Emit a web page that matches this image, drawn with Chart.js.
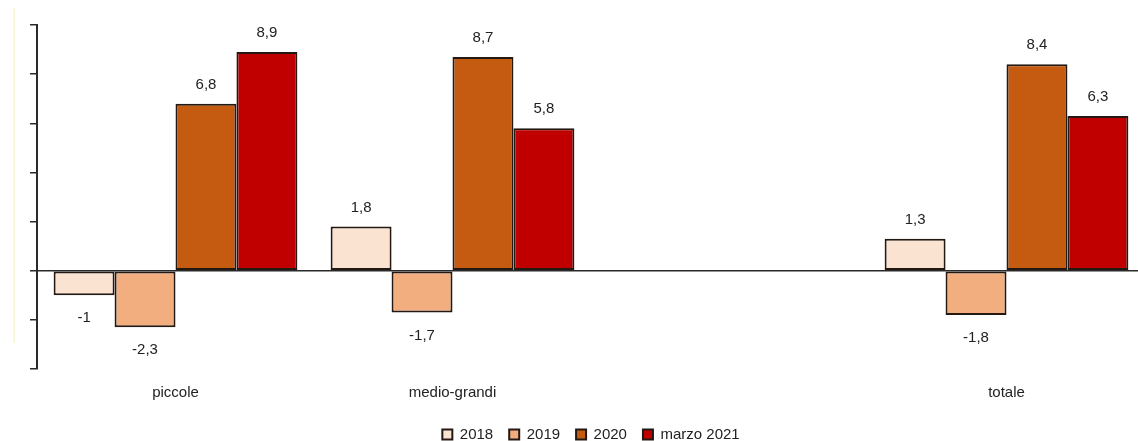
<!DOCTYPE html>
<html>
<head>
<meta charset="utf-8">
<script src="https://cdn.jsdelivr.net/npm/chart.js@4/dist/chart.umd.min.js"></script>
<style>
  html, body { margin: 0; padding: 0; background: #ffffff; overflow: hidden; }
  #wrap { position: relative; width: 1146px; height: 452px; }
  #edge { position: absolute; left: 13px; top: 8px; width: 2px; height: 335px; background: #fbf7d9; }
</style>
</head>
<body>
<div id="wrap">
  <div id="edge"></div>
  <canvas id="c"></canvas>
</div>
<script>
// Categories (the third slot is an empty spacer between the groups)
const categories = ['piccole', 'medio-grandi', '', 'totale'];
const seriesNames = ['2018', '2019', '2020', 'marzo 2021'];

const values2018 = [-1.0, 1.8, null, 1.3];
const values2019 = [-2.3, -1.7, null, -1.8];
const values2020 = [6.8, 8.7, null, 8.4];
const valuesMarzo2021 = [8.9, 5.8, null, 6.3];

const yTicks = [-4, -2, 0, 2, 4, 6, 8, 10];

const fillColors = ['#fbe3d2', '#f2ae7f', '#c55a11', '#c00000'];
const edgeColor = '#231812';
const textColor = '#222222';
const fontFamily = '"Liberation Sans", Arial, sans-serif';

const seriesValues = [values2018, values2019, values2020, valuesMarzo2021];

// Writes each bar's value next to its end, with a decimal comma
const valueLabels = {
  id: 'valueLabels',
  afterDatasetsDraw(chart) {
    const ctx = chart.ctx;
    ctx.save();
    ctx.font = '15px ' + fontFamily;
    ctx.fillStyle = textColor;
    ctx.textAlign = 'center';
    ctx.textBaseline = 'middle';
    chart.data.datasets.forEach((ds, di) => {
      const meta = chart.getDatasetMeta(di);
      meta.data.forEach((bar, i) => {
        const v = ds.data[i];
        if (v === null || v === undefined) return;
        const txt = String(v).replace('.', ',');
        const y = v >= 0 ? bar.y - 19 : bar.y + 23;
        ctx.fillText(txt, bar.x, y);
      });
    });
    ctx.restore();
  }
};

new Chart(document.getElementById('c'), {
  type: 'bar',
  data: {
    labels: categories,
    datasets: seriesNames.map((name, k) => ({
      label: name,
      data: seriesValues[k],
      backgroundColor: fillColors[k],
      borderColor: edgeColor,
      borderWidth: 2,
      borderSkipped: false,
      categoryPercentage: 0.88,
      barPercentage: 1.0
    }))
  },
  options: {
    responsive: true,
    maintainAspectRatio: false,
    animation: false,
    layout: { padding: { top: 25, left: 30, right: 1, bottom: 0 } },
    plugins: {
      tooltip: { enabled: false },
      legend: {
        position: 'bottom',
        fullSize: false,
        labels: {
          boxWidth: 10,
          boxHeight: 10,
          padding: 16,
          color: textColor,
          font: { family: fontFamily, size: 15 }
        }
      }
    },
    scales: {
      x: {
        grid: { display: false, drawTicks: false },
        border: { display: false },
        ticks: {
          padding: 15,
          color: textColor,
          font: { family: fontFamily, size: 15 }
        },
        afterFit(scale) { scale.height = 42; }
      },
      y: {
        min: yTicks[0],
        max: yTicks[yTicks.length - 1],
        afterBuildTicks(scale) { scale.ticks = yTicks.map(v => ({ value: v })); },
        ticks: { display: false },
        grid: {
          drawTicks: true,
          tickLength: 7,
          lineWidth: 1.5,
          color: c => (c.tick && c.tick.value === 0 ? '#2a2a2a' : 'rgba(0,0,0,0)'),
          tickColor: '#2a2a2a'
        },
        border: { display: true, color: '#2a2a2a', width: 2 }
      }
    }
  },
  plugins: [valueLabels]
});
</script>
</body>
</html>
